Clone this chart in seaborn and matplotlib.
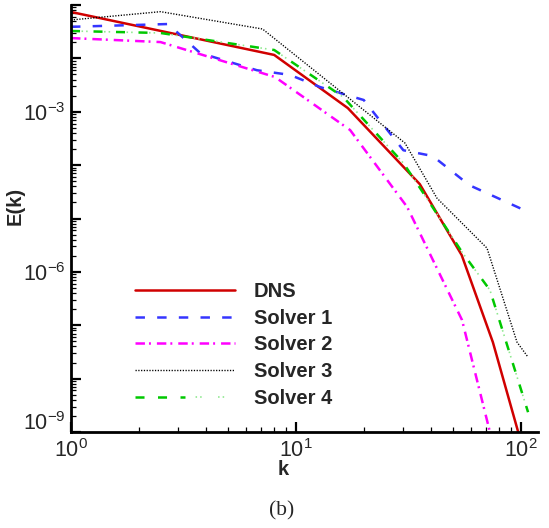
import numpy as np
import pandas as pd
import matplotlib
matplotlib.use("Agg")
import matplotlib.pyplot as plt
from matplotlib.ticker import LogLocator, FuncFormatter, NullFormatter
from matplotlib.legend_handler import HandlerTuple
import seaborn as sns

# Energy spectra E(k) from DNS and four solvers
k_dns = [1.0, 8.0, 17.0, 35.5, 54.5, 75.0, 100.0]
E_dns = [0.074, 0.0116, 1.17e-3, 4.4e-5, 2.06e-6, 4.8e-8, 6.5e-10]

k_s1 = [1.0, 2.7, 3.75, 6.7, 9.4, 12.8, 16.8, 20.0, 30.0, 40.5, 59.0, 108.0]
E_s1 = [0.039, 0.044, 0.0126, 6.0e-3, 4.9e-3, 2.9e-3, 2.06e-3, 1.66e-3,
        1.9e-4, 1.48e-4, 4.2e-5, 1.32e-5]

k_s2 = [1.0, 2.5, 8.07, 17.4, 31.2, 54.7, 74.3]
E_s2 = [0.024, 0.0202, 4.47e-3, 4.54e-4, 1.64e-5, 1.25e-7, 7.0e-10]

k_s3 = [1.0, 2.5, 7.1, 30.5, 42.3, 70.6, 96.0, 107.5]
E_s3 = [0.0524, 0.075, 0.0355, 2.59e-4, 2.41e-5, 2.79e-6, 4.82e-8, 2.52e-8]

k_s4 = [1.0, 2.5, 8.0, 16.2, 30.0, 35.6, 54.7, 72.8, 107.5]
E_s4 = [0.0326, 0.0299, 0.01435, 1.89e-3, 1.09e-4, 3.71e-5, 2.34e-6,
        4.55e-7, 2.35e-9]

labels = ["DNS", "Solver 1", "Solver 2", "Solver 3", "Solver 4"]
y_label_exps = [-6, -3]
y_bottom_exp = -9

sns.set_style("ticks")
plt.rcParams["font.family"] = ["Liberation Sans", "DejaVu Sans"]
plt.rcParams["mathtext.fontset"] = "custom"
plt.rcParams["mathtext.rm"] = "Liberation Sans"
plt.rcParams["mathtext.it"] = "Liberation Sans:italic"
plt.rcParams["mathtext.bf"] = "Liberation Sans:bold"
plt.rcParams["lines.scale_dashes"] = False

W, H = 549, 528
fig = plt.figure(figsize=(W / 100, H / 100), dpi=100)
x0, x1, y0, y1 = 71, 538, 5, 432
ax = fig.add_axes([x0 / W, 1 - y1 / H, (x1 - x0) / W, (y1 - y0) / H])

lw = 1.8
red, blue, mag, green, lgreen = "#d00000", "#3535ff", "#ff00ff", "#00c800", "#8fe88f"

def df(k, e):
    return pd.DataFrame({"k": k, "E": e})

sns.lineplot(data=df(k_dns, E_dns), x="k", y="E", ax=ax, color=red,
             linewidth=lw, linestyle="-")
sns.lineplot(data=df(k_s1, E_s1), x="k", y="E", ax=ax, color=blue,
             linewidth=lw, linestyle=(0, (6.8, 8.8)))
sns.lineplot(data=df(k_s2, E_s2), x="k", y="E", ax=ax, color=mag,
             linewidth=lw, linestyle=(0, (6.8, 2.9, 1.4, 4.3)))
sns.lineplot(data=df(k_s3, E_s3), x="k", y="E", ax=ax, color="black",
             linewidth=1.0, linestyle=(0, (0.9, 1.1)))
# Solver 4: green dashes with pale dots between them
sns.lineplot(data=df(k_s4, E_s4), x="k", y="E", ax=ax, color=lgreen,
             linewidth=1.2, linestyle=(8.6, (1.1, 2.2, 1.1, 11.8)))
sns.lineplot(data=df(k_s4, E_s4), x="k", y="E", ax=ax, color=green,
             linewidth=lw, linestyle=(0, (6.5, 9.7)))

lines = ax.get_lines()
handles = [lines[0], lines[1], lines[2], lines[3], (lines[5], lines[4])]

ax.set_xscale("log")
ax.set_yscale("log")
ax.set_xlim(1, 10 ** ((x1 - x0) / 225))
ax.set_ylim(1e-9, 1e-1)

ax.xaxis.set_major_locator(LogLocator(base=10, numticks=10))
ax.xaxis.set_minor_locator(LogLocator(base=10, subs=np.arange(2, 10), numticks=20))
ax.yaxis.set_major_locator(LogLocator(base=10, numticks=20))
ax.yaxis.set_minor_locator(LogLocator(base=10, subs=np.arange(2, 10), numticks=40))
ax.xaxis.set_minor_formatter(NullFormatter())
ax.yaxis.set_minor_formatter(NullFormatter())

def xfmt(v, pos):
    return r"$10^{%d}$" % int(round(np.log10(v)))

def yfmt(v, pos):
    e = int(round(np.log10(v)))
    return r"$10^{%d}$" % e if e in y_label_exps else ""

ax.xaxis.set_major_formatter(FuncFormatter(xfmt))
ax.yaxis.set_major_formatter(FuncFormatter(yfmt))

ax.tick_params(which="major", direction="in", length=7.5, width=1.6,
               labelsize=15.5, color="black")
ax.tick_params(axis="x", which="major", pad=5)
ax.tick_params(axis="y", which="major", pad=4)
ax.tick_params(which="minor", direction="in", length=3.8, width=0.9,
               color="black")

# lowest y label sits a little above its tick, clear of the x labels
ax.annotate(r"$10^{%d}$" % y_bottom_exp, xy=(0, 10.0 ** y_bottom_exp),
            xycoords=("axes fraction", "data"), xytext=(-4, 6),
            textcoords="offset points", ha="right", va="center",
            fontsize=15.5, annotation_clip=False)

sns.despine(ax=ax, top=True, right=True)
for s in ("left", "bottom"):
    ax.spines[s].set_linewidth(2.0)
    ax.spines[s].set_color("black")

ax.set_xlabel("k", fontsize=14.5, fontweight="bold")
ax.set_ylabel("E(k)", fontsize=14.5, fontweight="bold")
ax.xaxis.set_label_coords((283 - x0) / (x1 - x0), (y1 - 460) / (y1 - y0))
ax.yaxis.set_label_coords((25 - x0) / (x1 - x0), (y1 - 206) / (y1 - y0))

leg = ax.legend(handles, labels, loc="upper left",
                bbox_to_anchor=(135 / W, 1 - 282 / H),
                bbox_transform=fig.transFigure, frameon=False,
                prop={"weight": "bold", "size": 14.5},
                handlelength=4.95, handletextpad=0.95, labelspacing=0.38,
                borderpad=0, borderaxespad=0,
                handler_map={tuple: HandlerTuple(ndivide=None, pad=0)})

fig.text(282 / W, 1 - 511 / H, "(b)", ha="center", va="center",
         fontsize=15.5, family=["Liberation Serif", "DejaVu Serif"])

fig.savefig("out.png", dpi=100)
